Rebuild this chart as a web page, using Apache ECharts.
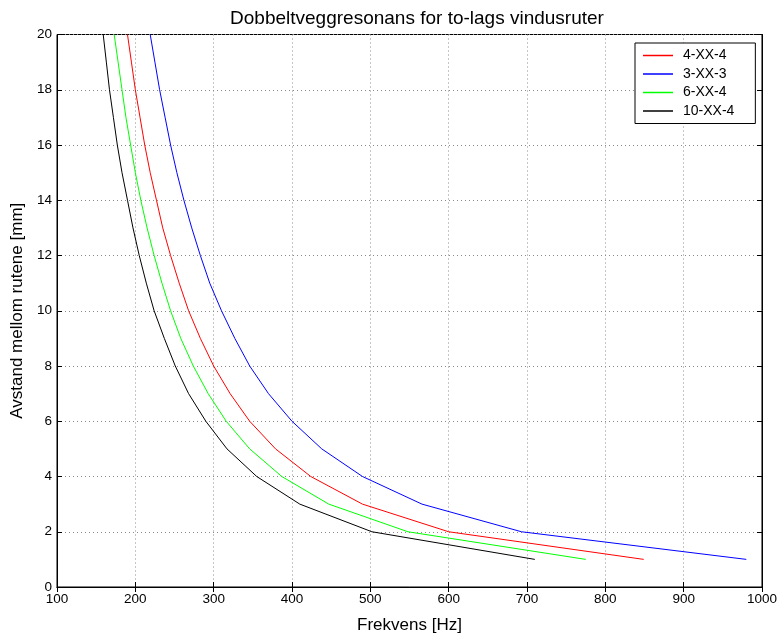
<!DOCTYPE html>
<html>
<head>
<meta charset="utf-8">
<script src="https://cdn.jsdelivr.net/npm/echarts@6/dist/echarts.min.js"></script>
<style>
  html, body { margin: 0; padding: 0; background: #fff; }
  #chart { width: 780px; height: 639px; }
</style>
</head>
<body>
<div id="chart"></div>
<script>
// Gap between the panes [mm]
const gapMm = [1, 2, 3, 4, 5, 6, 7, 8, 9, 10, 11, 12, 13, 14, 15, 16, 17, 18, 19, 20];

// Resonance frequency [Hz] per pane combination, one value per gap above
const f_4_4  = [849, 600, 490, 424, 379, 346, 321, 300, 283, 268, 256, 245, 235, 227, 219, 212, 206, 200, 195, 190];
const f_3_3  = [980, 693, 566, 490, 438, 400, 370, 346, 327, 310, 295, 283, 272, 262, 253, 245, 238, 231, 225, 219];
const f_6_4  = [775, 548, 447, 387, 346, 316, 293, 274, 258, 245, 234, 224, 215, 207, 200, 194, 188, 183, 178, 173];
const f_10_4 = [710, 502, 410, 355, 317, 290, 268, 251, 237, 224, 214, 205, 197, 190, 183, 177, 172, 167, 163, 159];

const seriesNames = ['4-XX-4', '3-XX-3', '6-XX-4', '10-XX-4'];
const seriesFreqs = [f_4_4, f_3_3, f_6_4, f_10_4];
const seriesColors = ['#ff0000', '#0000ff', '#00ff00', '#000000'];

const FONT = "'Liberation Sans', Arial, Helvetica, sans-serif";

const gridLine = { show: true, lineStyle: { color: '#8a8a8a', width: 1, type: [1, 3] } };

const chart = echarts.init(document.getElementById('chart'), null, { renderer: 'canvas' });

const series = seriesNames.map((name, i) => ({
  name: name,
  type: 'line',
  xAxisIndex: 0,
  yAxisIndex: 0,
  showSymbol: false,
  symbol: 'none',
  animation: false,
  clip: true,
  lineStyle: { color: seriesColors[i], width: 1 },
  itemStyle: { color: seriesColors[i] },
  data: seriesFreqs[i].map((f, k) => [f, gapMm[k]])
}));

chart.setOption({
  backgroundColor: '#ffffff',
  animation: false,
  title: {
    text: 'Dobbeltveggresonans for to-lags vindusruter',
    left: 412,
    textAlign: 'center',
    top: 4,
    textStyle: { fontFamily: FONT, fontSize: 19, fontWeight: 'normal', color: '#000' }
  },
  grid: {
    left: 57, right: 13, top: 34.5, bottom: 47.5,
    show: true, borderColor: '#000', borderWidth: 1, backgroundColor: '#fff'
  },
  legend: {
    data: seriesNames,
    orient: 'vertical',
    left: 635,
    top: 43,
    padding: [5, 21, 5, 8],
    itemGap: 3.5,
    itemWidth: 30,
    itemHeight: 1.5,
    icon: 'rect',
    backgroundColor: '#fff',
    borderColor: '#000',
    borderWidth: 1,
    borderRadius: 0,
    textStyle: { fontFamily: FONT, fontSize: 14, color: '#000', lineHeight: 15, padding: [0, 0, 0, 5] }
  },
  xAxis: [
    {
      type: 'value', min: 100, max: 1000, interval: 100,
      name: 'Frekvens [Hz]', nameLocation: 'middle', nameGap: 30,
      nameTextStyle: { fontFamily: FONT, fontSize: 17, color: '#000' },
      axisLine: { show: true, lineStyle: { color: '#000', width: 1 } },
      axisTick: { show: true, inside: true, length: 5, lineStyle: { color: '#000' } },
      axisLabel: { fontFamily: FONT, fontSize: 13.5, color: '#000', margin: 5, formatter: v => String(v) },
      splitLine: gridLine
    },
    {
      type: 'value', min: 100, max: 1000, interval: 100, position: 'top',
      axisLine: { show: true, lineStyle: { color: '#000', width: 1 } },
      axisTick: { show: true, inside: true, length: 5, lineStyle: { color: '#000' } },
      axisLabel: { show: false },
      splitLine: { show: false }
    }
  ],
  yAxis: [
    {
      type: 'value', min: 0, max: 20, interval: 2,
      name: 'Avstand mellom rutene [mm]', nameLocation: 'middle', nameGap: 28,
      nameTextStyle: { fontFamily: FONT, fontSize: 17, color: '#000' },
      axisLine: { show: true, lineStyle: { color: '#000', width: 1 } },
      axisTick: { show: true, inside: true, length: 5, lineStyle: { color: '#000' } },
      axisLabel: { fontFamily: FONT, fontSize: 13.5, color: '#000', margin: 5 },
      splitLine: gridLine
    },
    {
      type: 'value', min: 0, max: 20, interval: 2, position: 'right',
      axisLine: { show: true, lineStyle: { color: '#000', width: 1 } },
      axisTick: { show: true, inside: true, length: 5, lineStyle: { color: '#000' } },
      axisLabel: { show: false },
      splitLine: { show: false }
    }
  ],
  series: series
});
</script>
</body>
</html>
